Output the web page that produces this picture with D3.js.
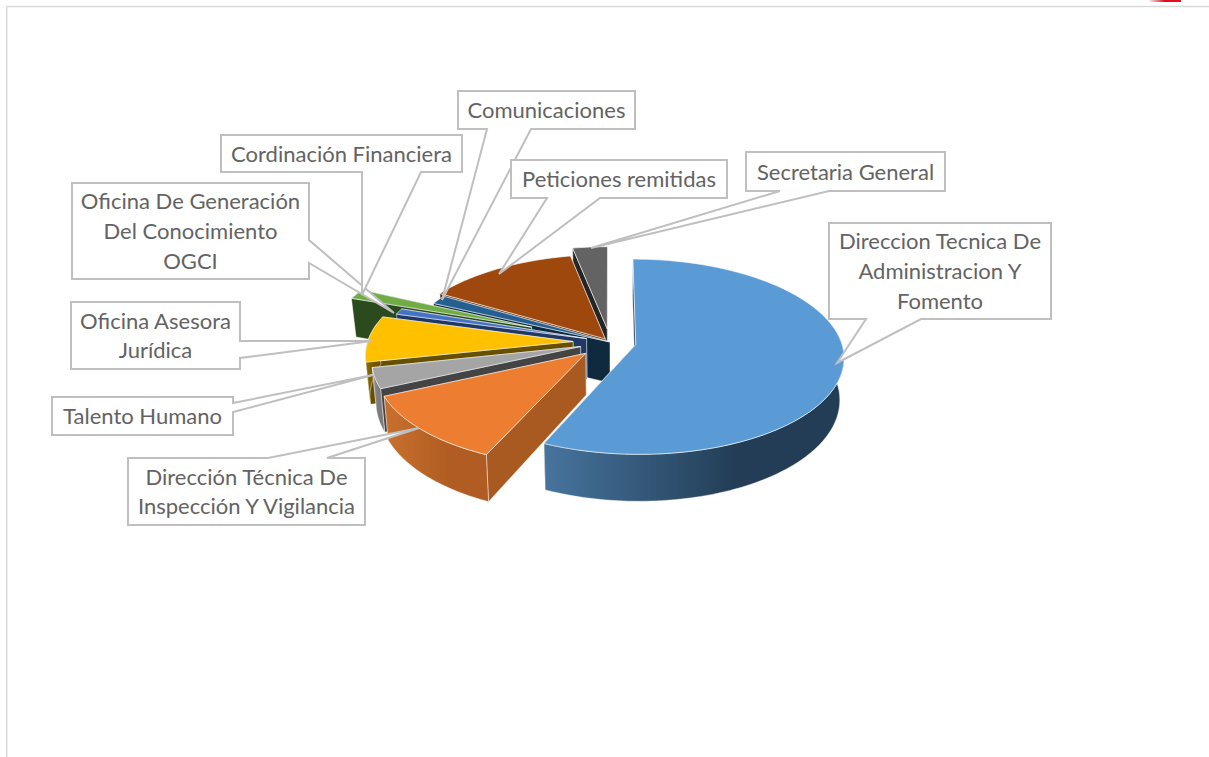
<!DOCTYPE html>
<html><head><meta charset="utf-8">
<script src="https://cdnjs.cloudflare.com/ajax/libs/d3/7.8.5/d3.min.js"></script>
<style>html,body{margin:0;padding:0;background:#fff;overflow:hidden}svg{display:block}</style>
</head><body><svg id="c" width="1209" height="757"></svg>
<script>
// ---- data ----
const departments = ["Direccion Tecnica De Administracion Y Fomento","Dirección Técnica De Inspección Y Vigilancia","Talento Humano","Oficina Asesora Jurídica","Oficina De Generación Del Conocimiento OGCI","Cordinación Financiera","Comunicaciones","Peticiones remitidas","Secretaria General"];
const shares = [56.7,11.5,3.4,7.7,1.0,1.7,1.5,13.4,3.1];
const explosion = [0.128,0.165,0.15,0.18,0.12,0.42,0,0.04,0.14];
// ---- style ----
const topColors  = ["#5B9BD5","#ED7D31","#A5A5A5","#FFC000","#4472C4","#70AD47","#255E91","#9E480E","#636363"];
const wallColors = ["#2A4A68","#A85A20","#444444","#665000","#203864","#2B4A1E","#0F2A3F","#5A2A08","#252525"];
const rimStart   = ["#47749E","#C8702E","#9A9A9A","#8A6C00","#2F4F8C","#3E6428","#163C5E","#6B3109","#3A3A3A"];
const rimEnd     = ["#223D55","#B05C22","#7C7C7C","#6B5300","#203864","#2B4A1E","#0F2A3F","#5A2A08","#252525"];
// ---- callout layout: box [x0,y0,x1,y1], tip, wedge base as two points on the box edge ----
const callouts = [
 {i:0,lines:["Direccion Tecnica De","Administracion Y","Fomento"],box:[829,223,1051,319],side:"b",base:[866,921],tip:[837,363]},
 {i:1,lines:["Dirección Técnica De","Inspección Y Vigilancia"],box:[128,458,365,525],side:"t",base:[268,327],tip:[419,428]},
 {i:2,lines:["Talento Humano"],box:[52,397,233,435],side:"r",base:[403,412],tip:[373,375]},
 {i:3,lines:["Oficina Asesora","Jurídica"],box:[71,302,240,369],side:"r",base:[341,358],tip:[372,341]},
 {i:4,lines:["Oficina De Generación","Del Conocimiento","OGCI"],box:[72,183,309,279],side:"r",base:[240,263],tip:[394,313]},
 {i:5,lines:["Cordinación Financiera"],box:[221,135,462,172],side:"b",base:[362,421],tip:[362,295]},
 {i:6,lines:["Comunicaciones"],box:[458,91,635,129],side:"b",base:[487,531],tip:[442,300]},
 {i:7,lines:["Peticiones remitidas"],box:[511,160,727,198],side:"b",base:[547,600],tip:[499,274]},
 {i:8,lines:["Secretaria General"],box:[746,152,945,191],side:"b",base:[780,829],tip:[591,248]}
];
const svg = d3.select("#c");
const defs = svg.append("defs");

// frame and corner mark
const fr = defs.append("linearGradient").attr("id","redmark");
fr.append("stop").attr("offset",0).attr("stop-color","#fff");
fr.append("stop").attr("offset",.5).attr("stop-color","#E01020");
svg.append("rect").attr("x",1148).attr("y",0).attr("width",33).attr("height",2).attr("fill","url(#redmark)");
svg.append("path").attr("d","M6.7,757V6.5H1209").attr("fill","none").attr("stroke","#D9D9D9").attr("stroke-width",1.5);

// ---- perspective disc projection ----
const cx=610, cy=342, R=205.5, squash=0.4645, persp=0.124, depth=41, baseShrink=0.982;
const sx=d3.scaleLinear().domain([0,1]).range([0,R]);
const sy=d3.scaleLinear().domain([0,1]).range([0,R*squash]);
function proj(X,Y,bottom){
  const s=1/(1-persp*Y);
  let x=cx+sx(X)*s, y=cy+sy(Y)*s;
  if(bottom){x=cx+(x-cx)*baseShrink; y+=depth*s;}
  return [x,y];
}
const arcs=d3.pie().sort(null).value(d=>d)(shares);
const line=d3.line();
arcs.forEach((d,i)=>{
  const mid=(d.startAngle+d.endAngle)/2, e=explosion[i];
  d.ox=Math.sin(mid)*e; d.oy=-Math.cos(mid)*e;
  d.pt=(a,r,b)=>proj(d.ox+r*Math.sin(a), d.oy-r*Math.cos(a), b);
});
function rimPts(d,b,a0=d.startAngle,a1=d.endAngle){
  const n=Math.max(4,Math.ceil((a1-a0)/0.02));
  return d3.range(n+1).map(k=>d.pt(a0+(a1-a0)*k/n,1,b));
}
// the outer wall is only seen on the half of the disc facing the viewer
const rimFrom=Math.PI*0.44, rimTo=Math.PI*1.56;
// back-to-front painting: last slices first, the large first slice on top
const order=[8,7,6,5,4,3,2,1,0];
const edge="rgba(255,255,255,0.75)";
order.forEach(i=>{
  const d=arcs[i], g=svg.append("g");
  const top=rimPts(d,false);
  const xs=top.map(p=>p[0]);
  // the cut wall that lies nearer the viewer is painted second
  [d.startAngle,d.endAngle].sort((a,b)=>d.pt(a,1,false)[1]-d.pt(b,1,false)[1]).forEach(a=>{
    g.append("path").attr("d",line([d.pt(a,0,false),d.pt(a,1,false),d.pt(a,1,true),d.pt(a,0,true)])+"Z")
     .attr("fill",wallColors[i]).attr("stroke",edge).attr("stroke-width",.6);
  });
  const r0=Math.max(d.startAngle,rimFrom), r1=Math.min(d.endAngle,rimTo);
  if(r1>r0){
    const gid="rim"+i;
    const lg=defs.append("linearGradient").attr("id",gid).attr("gradientUnits","userSpaceOnUse")
      .attr("x1",d3.min(xs)).attr("y1",0).attr("x2",d3.min(xs)+(d3.max(xs)-d3.min(xs))*0.65).attr("y2",0);
    lg.append("stop").attr("offset",0).attr("stop-color",rimStart[i]);
    lg.append("stop").attr("offset",1).attr("stop-color",rimEnd[i]);
    const rt=rimPts(d,false,r0,r1), rb=rimPts(d,true,r0,r1);
    g.append("path").attr("d",line(rt.concat(rb.slice().reverse()))+"Z")
     .attr("fill","url(#"+gid+")").attr("stroke",edge).attr("stroke-width",.6);
  }
  g.append("path").attr("d",line([d.pt(0,0,false)].concat(top))+"Z")
   .attr("fill",topColors[i]).attr("stroke",edge).attr("stroke-width",.8).attr("stroke-linejoin","round");
});

// ---- callouts ----
function calloutPath(c){
  const [x0,y0,x1,y1]=c.box,[a,b]=c.base,[tx,ty]=c.tip;
  if(c.side==="b") return `M${x0},${y0}H${x1}V${y1}H${b}L${tx},${ty}L${a},${y1}H${x0}Z`;
  if(c.side==="t") return `M${x0},${y0}H${a}L${tx},${ty}L${b},${y0}H${x1}V${y1}H${x0}Z`;
  return `M${x0},${y0}H${x1}V${a}L${tx},${ty}L${x1},${b}V${y1}H${x0}Z`;
}
const lineH=29.6;
callouts.forEach(c=>{
  const g=svg.append("g");
  g.append("path").attr("d",calloutPath(c)).attr("fill","#fff").attr("stroke","#BFBFBF").attr("stroke-width",2).attr("stroke-linejoin","miter");
  const [x0,y0,x1,y1]=c.box, mx=(x0+x1)/2, my=(y0+y1)/2;
  c.lines.forEach((t,k)=>{
    g.append("text").attr("x",mx).attr("y",my+(k-(c.lines.length-1)/2)*lineH+8)
     .attr("text-anchor","middle").attr("font-family","Lato, 'Open Sans', sans-serif")
     .attr("font-size",22).attr("fill","#636363").text(t);
  });
});
</script></body></html>
